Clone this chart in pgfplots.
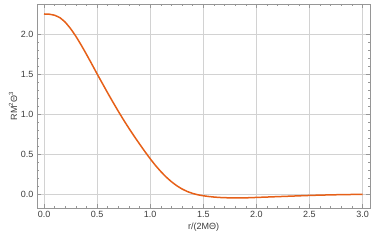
\documentclass[border=0pt]{standalone}
\usepackage{pgfplots}
\pgfplotsset{compat=1.18}
\usepackage{fontspec}
\setmainfont{Liberation Sans}
\definecolor{curve}{RGB}{230,96,24}
\definecolor{framec}{RGB}{150,150,150}
\definecolor{gridc}{RGB}{210,210,210}
\definecolor{labc}{RGB}{60,60,60}
\begin{document}
\begin{tikzpicture}
\begin{axis}[
  scale only axis,
  width=333pt, height=204pt,
  xmin=-0.066, xmax=3.07,
  ymin=-0.176, ymax=2.375,
  xtick={0,0.5,...,3.0},
  ytick={0,0.5,...,2.0},
  minor x tick num=4,
  minor y tick num=4,
  tick align=inside,
  major tick length=4pt,
  minor tick length=2pt,
  axis line style={framec, line width=0.6pt},
  tick style={framec, line width=0.5pt},
  grid=major,
  major grid style={gridc, line width=0.6pt},
  xticklabel style={/pgf/number format/.cd, fixed, fixed zerofill, precision=1},
  yticklabel style={/pgf/number format/.cd, fixed, fixed zerofill, precision=1},
  /pgf/number format/assume math mode=true,
  ticklabel style={font=\fontsize{9}{10}\selectfont, text=labc},
  label style={font=\fontsize{9}{10}\selectfont, text=labc},
  xlabel={r/(2MΘ)},
  ylabel={RM\textsuperscript{2}Θ\textsuperscript{3}},
  xlabel style={yshift=2pt},
  ylabel style={yshift=-3pt},
]
\addplot[curve, line width=1.5pt, smooth, tension=0.3] coordinates {
(0,2.25) (0.05,2.247) (0.1,2.234) (0.15,2.203) (0.2,2.147) (0.25,2.067)
(0.3,1.971) (0.35,1.862) (0.4,1.745) (0.45,1.624) (0.5,1.501)
(0.55,1.381) (0.6,1.262) (0.65,1.146) (0.7,1.033) (0.75,0.924)
(0.8,0.82) (0.85,0.72) (0.9,0.624) (0.95,0.53) (1.0,0.44)
(1.05,0.356) (1.1,0.28) (1.15,0.212) (1.2,0.153) (1.25,0.103)
(1.3,0.062) (1.35,0.03) (1.4,0.006) (1.45,-0.011) (1.5,-0.023)
(1.55,-0.032) (1.6,-0.039) (1.65,-0.044) (1.7,-0.047) (1.75,-0.049)
(1.8,-0.05) (1.85,-0.05) (1.9,-0.049) (2.0,-0.044) (2.1,-0.039)
(2.2,-0.034) (2.3,-0.029) (2.4,-0.024) (2.5,-0.019) (2.6,-0.015)
(2.7,-0.012) (2.8,-0.009) (2.9,-0.007) (3.0,-0.005)
};
\end{axis}
\pgfresetboundingbox
\path (current axis.south west)++(-37pt,-34pt) coordinate (bl);
\path (current axis.north east)++(4pt,4pt) coordinate (tr);
\path (bl) rectangle (tr);
\end{tikzpicture}
\end{document}
